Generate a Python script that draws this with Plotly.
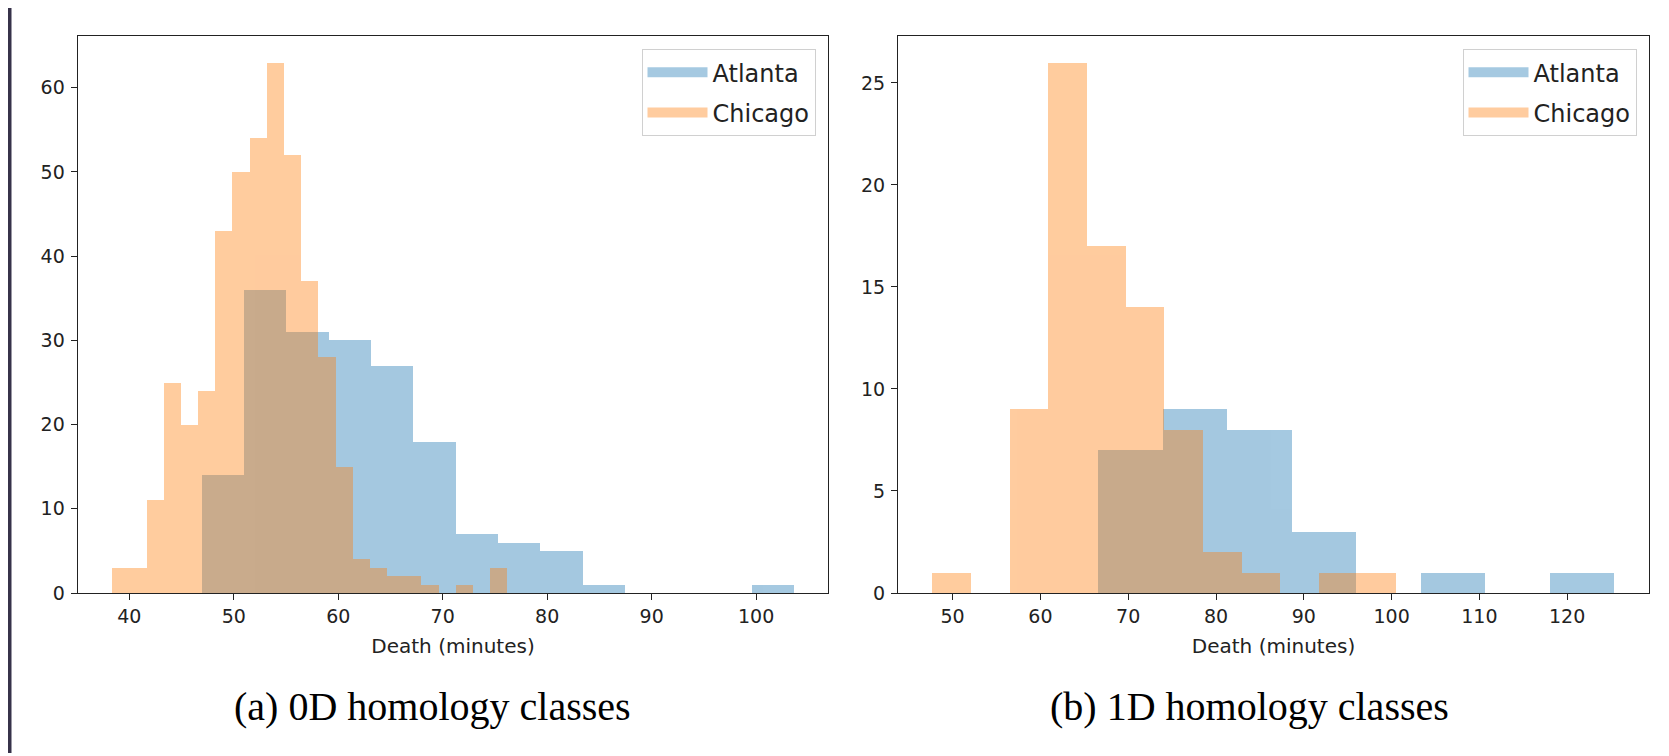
import numpy as np
import plotly.graph_objects as go
from plotly.subplots import make_subplots

# ---------------- data ----------------
# (a) 0D homology classes
atl0_counts = [14, 36, 31, 30, 27, 18, 7, 6, 5, 1, 0, 0, 0, 1]
atl0_bin_start, atl0_bin_width = 46.9, 4.052
chi0_counts = [3, 3, 11, 25, 20, 24, 43, 50, 54, 63, 52, 37, 28, 15, 4, 3, 2, 2, 1, 0, 1, 0, 3]
chi0_bin_start, chi0_bin_width = 38.34, 1.645

# (b) 1D homology classes
atl1_counts = [7, 9, 8, 3, 0, 1, 0, 1]
atl1_bin_start, atl1_bin_width = 66.6, 7.35
chi1_counts = [1, 0, 9, 26, 17, 14, 8, 2, 1, 0, 1, 1]
chi1_bin_start, chi1_bin_width = 47.7, 4.404

series_names = ["Atlanta", "Chicago"]
captions = ["(a) 0D homology classes", "(b) 1D homology classes"]
x_title = "Death (minutes)"
y_ticks_a = [0, 10, 20, 30, 40, 50, 60]
y_ticks_b = [0, 5, 10, 15, 20, 25]
x_ticks_a = [40, 50, 60, 70, 80, 90, 100]
x_ticks_b = [50, 60, 70, 80, 90, 100, 110, 120]

BLUE = "#1f77b4"
ORANGE = "#ff7f0e"
FRAME = "#37324a"
W, H = 1669, 756

# page placement calibration (figure is shown offset inside the page)
DX = -7.5


def px(x):
    return (x + DX) / W


def py(y):
    yy = (y - 7) / 0.9876
    return 1 - yy / H


def centers(start, width, counts):
    edges = start + width * np.arange(len(counts) + 1)
    return (edges[:-1] + edges[1:]) / 2


fig = make_subplots(rows=1, cols=2)

panels = [
    (1, [(atl0_counts, atl0_bin_start, atl0_bin_width), (chi0_counts, chi0_bin_start, chi0_bin_width)], "legend"),
    (2, [(atl1_counts, atl1_bin_start, atl1_bin_width), (chi1_counts, chi1_bin_start, chi1_bin_width)], "legend2"),
]
for col, hists, leg in panels:
    for (counts, start, width), name, color in zip(hists, series_names, [BLUE, ORANGE]):
        fig.add_trace(
            go.Bar(
                x=centers(start, width, counts),
                y=counts,
                width=width,
                name=name,
                marker=dict(color=color, line=dict(width=0)),
                opacity=0.4,
                showlegend=False,
            ),
            row=1, col=col,
        )
        # legend entry drawn as a wide patch (thick line swatch)
        fig.add_trace(
            go.Scatter(
                x=[None], y=[None], mode="lines", name=name,
                line=dict(color=color, width=18), opacity=0.4,
                legend=leg, legendgroup=name + leg, showlegend=True, hoverinfo="skip",
            ),
            row=1, col=col,
        )

# geometry (pixels -> paper)
yd = [py(593.3), py(35)]
xd1 = [px(77.3), px(827.7)]
xd2 = [px(897.7), px(1648.3)]

tickfont = dict(family="DejaVu Sans", size=19, color="#222222")
axis_common = dict(
    showline=True, linecolor="#222222", linewidth=1.4, mirror=True,
    ticks="outside", ticklen=6, tickwidth=1.3, tickcolor="#222222",
    showgrid=False, zeroline=False, tickfont=tickfont,
)
title_font = dict(family="DejaVu Sans", size=20, color="#222222")
legend_common = dict(
    xanchor="right", yanchor="top",
    bgcolor="white", bordercolor="#d0d0d0", borderwidth=1,
    font=dict(family="DejaVu Sans", size=24, color="#222222"),
    itemwidth=60, tracegroupgap=6,
)

fig.update_layout(
    width=W, height=H,
    margin=dict(l=0, r=0, t=0, b=0),
    paper_bgcolor="white",
    plot_bgcolor="white",
    barmode="overlay",
    bargap=0,
    xaxis=dict(domain=xd1, range=[35.07, 106.9], tickvals=x_ticks_a,
               title=dict(text=x_title, font=title_font, standoff=12), **axis_common),
    yaxis=dict(domain=yd, range=[0, 66.15], tickvals=y_ticks_a, ticklabelstandoff=2, **axis_common),
    xaxis2=dict(domain=xd2, range=[43.8, 129.3], tickvals=x_ticks_b,
                title=dict(text=x_title, font=title_font, standoff=12), **axis_common),
    yaxis2=dict(domain=yd, range=[0, 27.3], tickvals=y_ticks_b, ticklabelstandoff=2, **axis_common),
    legend=dict(x=px(815), y=py(48.3), **legend_common),
    legend2=dict(x=px(1636), y=py(48.3), **legend_common),
    shapes=[
        dict(type="rect", xref="paper", yref="paper", x0=0, x1=3.5 / W, y0=0, y1=1,
             fillcolor=FRAME, line=dict(width=0), layer="below"),
    ],
    annotations=[
        dict(text=captions[0], x=px(431.5), y=py(707), xref="paper", yref="paper",
             xanchor="center", yanchor="middle", showarrow=False,
             font=dict(family="Liberation Serif", size=40, color="black")),
        dict(text=captions[1], x=px(1249), y=py(707), xref="paper", yref="paper",
             xanchor="center", yanchor="middle", showarrow=False,
             font=dict(family="Liberation Serif", size=40, color="black")),
    ],
)

fig.write_html("out.html")
